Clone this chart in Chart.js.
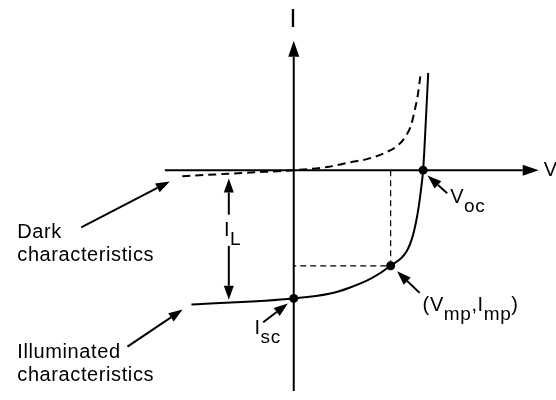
<!DOCTYPE html>
<html>
<head>
<meta charset="utf-8">
<script src="https://cdn.jsdelivr.net/npm/chart.js@4.4.1/dist/chart.umd.min.js"></script>
<style>
  html, body { margin: 0; padding: 0; background: #fff; }
  #wrap { width: 556px; height: 400px; }
</style>
</head>
<body>
<div id="wrap"><canvas id="ivChart"></canvas></div>
<script>
// I-V curves of a solar cell, arbitrary units (V right, I up)
const darkV = [-1.133, -0.44, 0, 0.36, 0.56, 0.76, 0.927, 1.06, 1.143, 1.193, 1.233, 1.26, 1.287];
const darkI = [-0.062, -0.024, 0, 0.035, 0.078, 0.118, 0.178, 0.255, 0.355, 0.462, 0.628, 0.762, 0.962];

const lightV = [-1.04, 0, 0.36, 0.56, 0.793, 0.985, 1.143, 1.21, 1.26, 1.293, 1.315, 1.327, 1.347, 1.367];
const lightI = [-1.375, -1.312, -1.265, -1.205, -1.105, -0.978, -0.838, -0.672, -0.438, -0.205, 0, 0.195, 0.595, 0.995];

const Voc = 1.315;
const Isc = -1.312;
const Vmp = 0.985;
const Imp = -0.978;

const toPoints = (xs, ys) => xs.map((x, i) => ({ x: x, y: ys[i] }));

const FONT = '"Liberation Sans", Arial, Helvetica, sans-serif';

// text pieces; sub parts are lowered
const labels = [
  { x: -0.005, y: 1.465, size: 25, align: "center", parts: [["I"]] },
  { x: 2.54, y: -0.055, parts: [["V"]] },
  { x: 1.59, y: -0.335, parts: [["V"], ["oc", 1]] },
  { x: -0.71, y: -0.675, parts: [["I"], ["L", 1]] },
  { x: -0.40, y: -1.675, parts: [["I"], ["sc", 1]] },
  { x: 1.31, y: -1.445, parts: [["("], ["V"], ["mp", 1], [","], ["I"], ["mp", 1], [")"]] },
  { x: -2.81, y: -0.695, parts: [["Dark"]] },
  { x: -2.81, y: -0.925, parts: [["characteristics"]] },
  { x: -2.81, y: -1.925, parts: [["Illuminated"]] },
  { x: -2.81, y: -2.155, parts: [["characteristics"]] },
];

// pointer arrows: [fromV, fromI, toV, toI]
const pointers = [
  [-2.16, -0.585, -1.26, -0.115],
  [-1.69, -1.805, -1.13, -1.425],
  [-0.31, -1.555, -0.06, -1.365],
  [1.56, -0.235, 1.36, -0.055],
  [1.28, -1.255, 1.05, -1.035],
  // I_L span, split around its label
  [-0.66, -0.455, -0.66, -0.085],
  [-0.66, -0.775, -0.66, -1.325],
];

function arrow(ctx, x1, y1, x2, y2, len, half) {
  const a = Math.atan2(y2 - y1, x2 - x1);
  const bx = x2 - len * Math.cos(a), by = y2 - len * Math.sin(a);
  ctx.beginPath();
  ctx.moveTo(x1, y1);
  ctx.lineTo(bx, by);
  ctx.stroke();
  ctx.beginPath();
  ctx.moveTo(x2, y2);
  ctx.lineTo(bx + half * Math.sin(a), by - half * Math.cos(a));
  ctx.lineTo(bx - half * Math.sin(a), by + half * Math.cos(a));
  ctx.closePath();
  ctx.fill();
}

const overlay = {
  id: "overlay",
  beforeDatasetsDraw(chart) {
    const { ctx, scales: { x, y } } = chart;
    ctx.save();
    ctx.strokeStyle = "#000";
    ctx.fillStyle = "#000";
    ctx.lineWidth = 2;
    // V axis
    arrow(ctx, x.getPixelForValue(-1.31), y.getPixelForValue(0), x.getPixelForValue(2.49), y.getPixelForValue(0), 16, 5.5);
    // I axis
    arrow(ctx, x.getPixelForValue(0), y.getPixelForValue(-2.26), x.getPixelForValue(0), y.getPixelForValue(1.325), 16, 5.5);
    ctx.restore();
  },
  afterDatasetsDraw(chart) {
    const { ctx, scales: { x, y } } = chart;
    ctx.save();
    ctx.strokeStyle = "#000";
    ctx.fillStyle = "#000";
    ctx.lineWidth = 2;
    pointers.forEach(p => {
      arrow(ctx, x.getPixelForValue(p[0]), y.getPixelForValue(p[1]),
        x.getPixelForValue(p[2]), y.getPixelForValue(p[3]), 14, 5);
    });

    ctx.textBaseline = "alphabetic";
    ctx.letterSpacing = "0.6px";
    labels.forEach(l => {
      const size = l.size || 20;
      let px = x.getPixelForValue(l.x);
      const py = y.getPixelForValue(l.y);
      if (l.align === "center") {
        ctx.font = size + "px " + FONT;
        px -= ctx.measureText(l.parts[0][0]).width / 2;
      }
      l.parts.forEach(([t, sub]) => {
        ctx.font = (sub ? 19 : size) + "px " + FONT;
        ctx.fillText(t, px, py + (sub ? 9 : 0));
        px += ctx.measureText(t).width;
      });
    });
    ctx.restore();
  }
};

const ctx = document.getElementById("ivChart").getContext("2d");

new Chart(ctx, {
  type: "scatter",
  data: {
    datasets: [
      {
        label: "Dark characteristics",
        data: toPoints(darkV, darkI),
        showLine: true,
        borderColor: "#000",
        borderWidth: 2,
        borderDash: [8, 5],
        pointRadius: 0,
        cubicInterpolationMode: "monotone",
      },
      {
        label: "Illuminated characteristics",
        data: toPoints(lightV, lightI),
        showLine: true,
        borderColor: "#000",
        borderWidth: 2,
        pointRadius: 0,
        cubicInterpolationMode: "monotone",
      },
      {
        label: "Vmp guide",
        data: [{ x: Vmp, y: 0 }, { x: Vmp, y: Imp }, { x: 0, y: Imp }],
        showLine: true,
        borderColor: "#000",
        borderWidth: 1.2,
        borderDash: [6, 4],
        pointRadius: 0,
      },
      {
        label: "Points",
        data: [{ x: 0, y: Isc }, { x: Vmp, y: Imp }, { x: Voc, y: 0 }],
        pointRadius: 4.5,
        pointBackgroundColor: "#000",
        pointBorderWidth: 0,
      },
    ],
  },
  options: {
    responsive: true,
    maintainAspectRatio: false,
    animation: false,
    layout: { padding: 0 },
    plugins: {
      legend: { display: false },
      tooltip: { enabled: false },
    },
    scales: {
      x: { type: "linear", min: -2.94, max: 2.62, display: false },
      y: { type: "linear", min: -2.305, max: 1.695, display: false },
    },
  },
  plugins: [overlay],
});
</script>
</body>
</html>
